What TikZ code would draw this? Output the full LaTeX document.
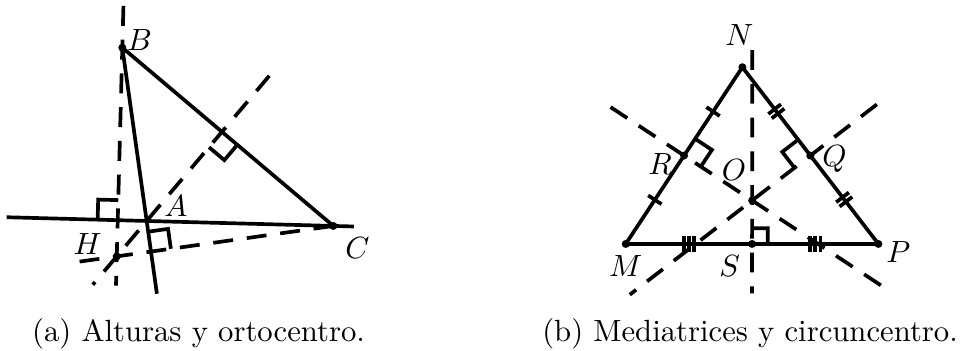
\documentclass[tikz,border=0pt]{standalone}
\usepackage{amsmath}
\usepackage{tikz}
\usetikzlibrary{calc, intersections, decorations.markings}

% right angle mark: corner, point along one line, point along the other
\newcommand{\recto}[4][0.23cm]{%
  \draw ($(#2)!#1!(#3)$) -- ($(#2)!#1!(#3) + (#2)!#1!(#4) - (#2)$) -- ($(#2)!#1!(#4)$);}

\tikzset{
  raya1/.style={postaction={decorate, decoration={markings,
      mark=between positions 0.25 and 0.75 step 0.5 with {\draw (0,-2.6pt) -- (0,2.6pt);}}}},
  raya2/.style={postaction={decorate, decoration={markings,
      mark=between positions 0.25 and 0.75 step 0.5 with {\draw (-0.9pt,-2.6pt) -- (-0.9pt,2.6pt) (0.9pt,-2.6pt) -- (0.9pt,2.6pt);}}}},
  raya3/.style={postaction={decorate, decoration={markings,
      mark=between positions 0.25 and 0.75 step 0.5 with {\draw (-1.7pt,-2.6pt) -- (-1.7pt,2.6pt) (0,-2.6pt) -- (0,2.6pt) (1.7pt,-2.6pt) -- (1.7pt,2.6pt);}}}},
}

\begin{document}
\begin{tikzpicture}[line width=1.2pt, discont/.style={dash pattern=on 6.5pt off 4.5pt}]
    \useasboundingbox (0,0) rectangle (11.03,4.02);

    % (a) triangle ABC and its altitudes
    \coordinate (A) at (1.680,1.489);
    \coordinate (B) at (1.401,3.474);
    \coordinate (C) at (3.818,1.432);
    \coordinate (Ha) at ($(B)!(A)!(C)$);
    \coordinate (Hb) at ($(A)!(B)!(C)$);
    \coordinate (Hc) at ($(A)!(C)!(B)$);
    \coordinate (H) at (intersection of A--Ha and B--Hb);
    \coordinate (ac1) at ($(A)!-0.75!(C)$);
    \coordinate (ac2) at ($(C)!-0.11!(A)$);
    \coordinate (ab1) at ($(B)!1.42!(A)$);

    \draw (ac1) -- (ac2);
    \draw (B) -- (ab1);
    \draw (B) -- (C);

    \draw[discont] ($(B)!-0.2!(H)$) -- ($(B)!1.14!(H)$);
    \draw[discont] ($(A)!-4.1!(H)$) -- ($(A)!1.8!(H)$);
    \draw[discont] (C) -- ($(C)!1.18!(H)$);

    \recto{Ha}{C}{A}
    \recto{Hb}{ac1}{B}
    \recto{Hc}{A}{C}

    \fill (B) circle (1.3pt) node[right, inner sep=1pt, yshift=2.5pt] (tB) {$B$};
    \fill (C) circle (1.3pt) node[below right] (tC) {$C$};
    \fill (H) circle (1.3pt) node[left, xshift=-1pt, yshift=4pt] (tH) {$H$};
    \node[above right, xshift=1.8pt, yshift=-2.6pt] (tA) at (A) {$A$};

    % (b) triangle MNP and its perpendicular bisectors
    \coordinate (M) at (7.167,1.226);
    \coordinate (N) at (8.503,3.250);
    \coordinate (P) at (10.061,1.226);
    \coordinate (R) at ($(M)!0.5!(N)$);
    \coordinate (Q) at ($(N)!0.5!(P)$);
    \coordinate (S) at ($(M)!0.5!(P)$);
    \coordinate (r1) at ($(R)!1!-90:(N)$);
    \coordinate (s1) at ($(S)!1!90:(P)$);
    \coordinate (O) at (intersection of R--r1 and S--s1);

    \draw[discont] ($(R)!-1.08!(O)$) -- ($(R)!3.04!(O)$);
    \draw[discont] ($(Q)!-1.14!(O)$) -- ($(Q)!3.1!(O)$);
    \draw[discont] ($(S)!4.46!(O)$) -- ($(S)!-1.14!(O)$);

    \draw[raya1] (M) -- (N);
    \draw[raya2] (N) -- (P);
    \draw[raya3] (M) -- (P);

    \recto{R}{N}{O}
    \recto{Q}{N}{O}
    \recto[0.18cm]{S}{P}{O}

    \fill (N) circle (1.3pt) node[above, xshift=-1pt, yshift=3.3pt] (tN) {$N$};
    \fill (M) circle (1.3pt) node[below] (tM) {$M$};
    \fill (P) circle (1.3pt) node[right, inner sep=2pt, yshift=-2.5pt] (tP) {$P$};
    \fill (S) circle (1.3pt) node[below left] (tS) {$S$};
    \fill (R) circle (1.3pt) node[left, yshift=-2.6pt] (tR) {$R$};
    \fill (Q) circle (1.3pt) node[right, yshift=-1pt] (tQ) {$Q$};
    \fill (O) circle (1.3pt) node[above left, xshift=2pt, yshift=2.6pt] (tO) {$O$};

    % captions
    \node[anchor=base] (capa) at (2.274,0.103) {(a) Alturas y ortocentro.};
    \node[anchor=base] (capb) at (8.591,0.103) {(b) Mediatrices y circuncentro.};
\end{tikzpicture}
\end{document}
